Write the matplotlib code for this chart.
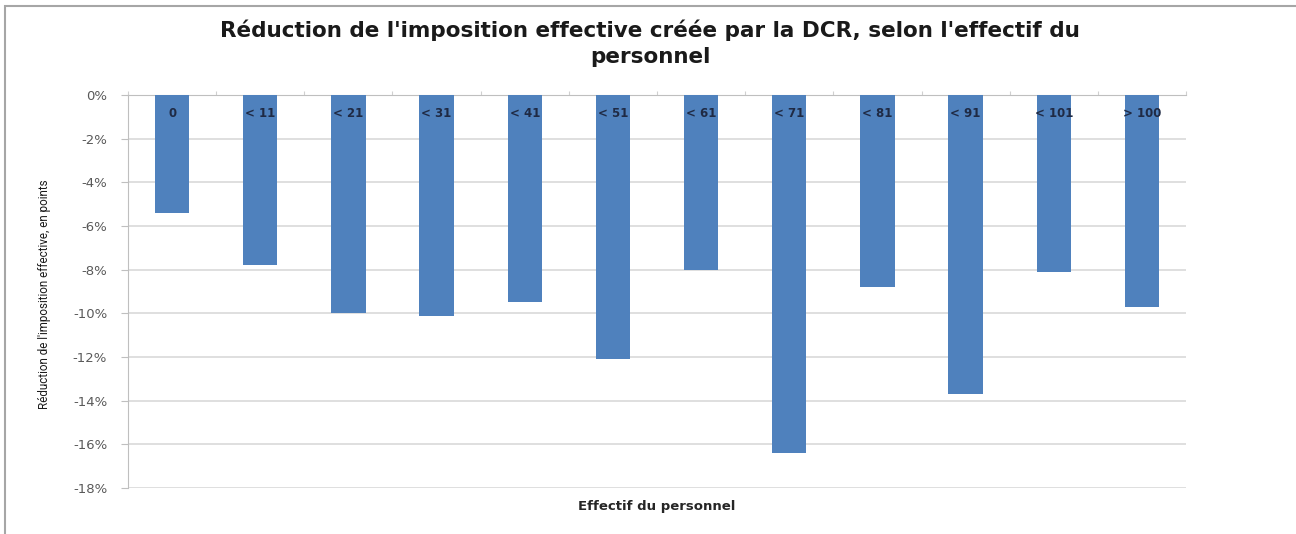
import matplotlib.pyplot as plt
import numpy as np

# Effective tax reduction by staff size band
categories = ["0", "< 11", "< 21", "< 31", "< 41", "< 51", "< 61", "< 71", "< 81", "< 91", "< 101", "> 100"]
reduction_pct = [-5.4, -7.8, -10.0, -10.1, -9.5, -12.1, -8.0, -16.4, -8.8, -13.7, -8.1, -9.7]
y_ticks = [0, -2, -4, -6, -8, -10, -12, -14, -16, -18]

title = "Réduction de l'imposition effective créée par la DCR, selon l'effectif du\npersonnel"
x_label = "Effectif du personnel"
y_label = "Réduction de l'imposition effective, en points"

bar_color = "#4F81BD"
grid_color = "#D9D9D9"

fig = plt.figure(figsize=(12.96, 5.34), dpi=100)
fig.patch.set_facecolor("white")

# Chart-area frame (top and left edges)
frame = plt.Rectangle((5 / 1296, -0.05), 1.2, 1 - 6 / 534 + 0.05, transform=fig.transFigure,
                      fill=False, edgecolor="#A6A6A6", linewidth=1.5, zorder=0)
fig.add_artist(frame)

ax = fig.add_axes([128 / 1296, 1 - 488 / 534, (1186 - 128) / 1296, (488 - 95) / 534])

x = np.arange(len(categories))
ax.bar(x, reduction_pct, width=0.39, color=bar_color, zorder=3)

ax.set_xlim(-0.5, len(categories) - 0.5)
ax.set_ylim(-18, 0)

ax.set_yticks(y_ticks)
ax.set_yticklabels([f"{v}%" for v in y_ticks], fontsize=9.5, color="#595959",
                   family="DejaVu Sans")
ax.yaxis.grid(True, color=grid_color, linewidth=1.2, zorder=0)
ax.tick_params(axis="y", direction="out", length=5, color="#BFBFBF", pad=10)

# Category boundary ticks on the zero line
ax.xaxis.set_ticks_position("top")
ax.set_xticks(np.arange(-0.5, len(categories) + 0.5, 1.0))
ax.set_xticklabels([])
ax.tick_params(axis="x", direction="out", length=3, color="#D0D0D0")

for side in ["right", "bottom"]:
    ax.spines[side].set_visible(False)
ax.spines["left"].set_color("#BFBFBF")
ax.spines["top"].set_color("#BFBFBF")

# Category labels sit just below the zero axis line
for xi, cat in zip(x, categories):
    ax.annotate(cat, (xi, 0), xytext=(0, -13), textcoords="offset points",
                ha="center", va="center", fontsize=8.5, fontweight="bold", color="#1F2A44",
                family="DejaVu Sans", zorder=4)

ax.text(0.5, -0.03, x_label, transform=ax.transAxes, ha="center", va="top",
        fontsize=9.5, fontweight="bold", color="#262626", family="DejaVu Sans")

fig.text(45 / 1296, 1 - 294 / 534, y_label, rotation=90, ha="center", va="center",
         fontsize=8.4, color="#1A1A1A",
         family=["Liberation Sans Narrow", "Roboto", "DejaVu Sans"])

fig.text(650 / 1296, 1 - 43 / 534, title, ha="center", va="center", fontsize=15.5,
         fontweight="bold", color="#1A1A1A", linespacing=1.4,
         family="DejaVu Sans")

fig.savefig("out.png", dpi=100, facecolor="white")
